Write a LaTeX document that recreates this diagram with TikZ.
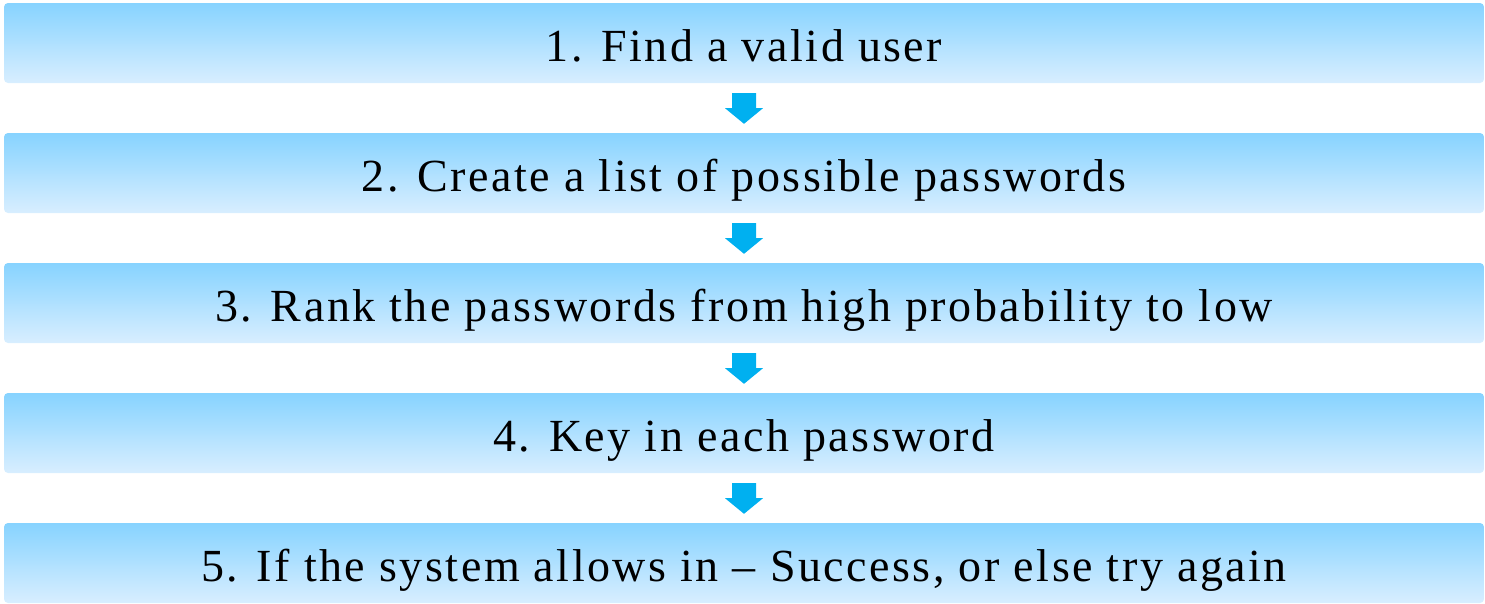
\documentclass[tikz,border=0pt]{standalone}
\usepackage{fontspec}
\setmainfont{Liberation Serif}[LetterSpace=5.5]
\usetikzlibrary{calc}
\definecolor{boxtop}{HTML}{87D3FF}
\definecolor{boxbottom}{HTML}{D8EEFF}
\definecolor{arrowblue}{HTML}{00B0F0}
\tikzset{
  stepbox/.style={rectangle, rounded corners=4pt, minimum width=1480pt,
    minimum height=80pt, inner sep=0pt, top color=boxtop, bottom color=boxbottom,
    draw=none},
  steptext/.style={anchor=base, inner sep=0pt, font=\rmfamily\fontsize{46pt}{55pt}\selectfont},
  downarrow/.style={fill=arrowblue, draw=none}
}
\newcommand{\blockarrow}[2]{%
  \fill[downarrow] ($(#1.south)+(-12pt,-10pt)$) -- ($(#1.south)+(12pt,-10pt)$)
    -- ($(#1.south)+(12pt,-25pt)$) -- ($(#1.south)+(19pt,-25pt)$)
    -- ($(#2.north)+(0pt,9pt)$)
    -- ($(#1.south)+(-19pt,-25pt)$) -- ($(#1.south)+(-12pt,-25pt)$) -- cycle;}
\begin{document}
\begin{tikzpicture}[x=1pt, y=-1pt]
  \useasboundingbox (0,0) rectangle (1485,603);
  % five steps, 130pt apart
  \node[stepbox] (b1) at (744,43) {};
  \node[stepbox] (b2) at (744,173) {};
  \node[stepbox] (b3) at (744,303) {};
  \node[stepbox] (b4) at (744,433) {};
  \node[stepbox] (b5) at (744,563) {};
  \node[steptext] (t1) at (744,61.5) {1. Find a valid user};
  \node[steptext] (t2) at (744,191.5) {2. Create a list of possible passwords};
  \node[steptext] (t3) at (744,321.5) {3. Rank the passwords from high probability to low};
  \node[steptext] (t4) at (744,451.5) {4. Key in each password};
  \node[steptext] (t5) at (744,581.5) {5. If the system allows in -- Success, or else try again};
  % arrows between the steps
  \blockarrow{b1}{b2}
  \blockarrow{b2}{b3}
  \blockarrow{b3}{b4}
  \blockarrow{b4}{b5}
\end{tikzpicture}
\end{document}
